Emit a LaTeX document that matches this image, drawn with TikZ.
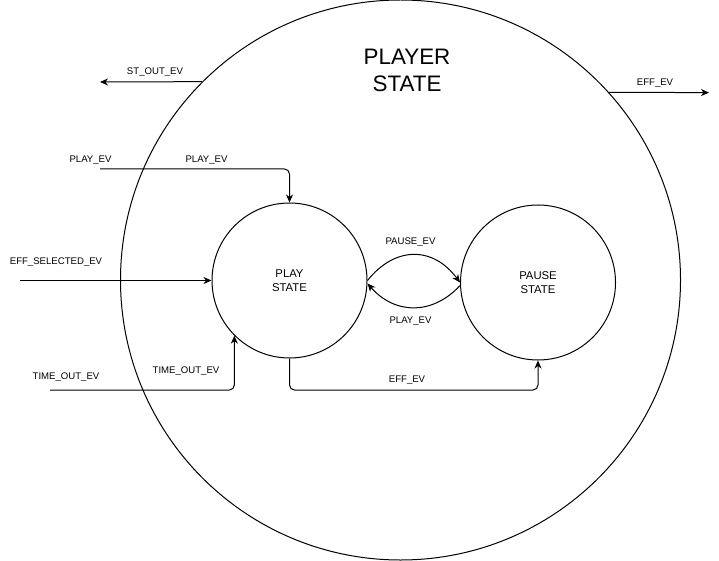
\documentclass[tikz,border=0pt]{standalone}
\usepackage{fontspec}
\setmainfont{Liberation Sans}
\usetikzlibrary{arrows.meta}
\begin{document}
\begin{tikzpicture}[x=1pt,y=-1pt,
  state/.style={draw,circle,line width=1pt,minimum size=155pt,inner sep=0pt,align=center,font=\fontsize{11.3}{13.5}\selectfont},
  lbl/.style={font=\fontsize{9.6}{11}\selectfont,inner sep=0pt},
  arr/.style={line width=1pt,-{Stealth[length=8pt,width=7pt,inset=2.5pt]}},
  conn/.style={arr,rounded corners=5pt}]
\useasboundingbox (0,0) rectangle (719,561);
\fill[white] (0,0) rectangle (719,561);
\node[draw,circle,line width=1pt,minimum size=560pt,inner sep=0pt] (big) at (400.5,280) {};
\node[align=center,font=\fontsize{22.4}{27}\selectfont] (title) at (407,70) {PLAYER\\STATE};
\node[state] (play) at (289.5,280.5) {PLAY\\STATE};
\node[state] (pause) at (538,282.5) {PAUSE\\STATE};
% outputs
\coordinate (stout) at (100,82);
\coordinate (effout) at (709,92.6);
\draw[arr] (big.135) -- (stout);
\draw[arr] (big.42) -- (effout);
\node[lbl] (lstout) at (155,72) {ST\_OUT\_EV};
\node[lbl] (leffout) at (655,83) {EFF\_EV};
% inputs
\coordinate (playin) at (100,169);
\coordinate (effin) at (20,280.5);
\coordinate (timein) at (50,390);
\draw[conn] (playin) -| (play.north);
\draw[arr] (effin) -- (play.west);
\draw[conn] (timein) -| (play.-135);
\node[lbl] (lplayin) at (90.5,160) {PLAY\_EV};
\node[lbl] (lplayin2) at (206.5,160) {PLAY\_EV};
\node[lbl] (leffin) at (56,262) {EFF\_SELECTED\_EV};
\node[lbl] (ltimein) at (66,377) {TIME\_OUT\_EV};
\node[lbl] (ltimein2) at (186,371) {TIME\_OUT\_EV};
% transitions
\draw[arr] (play.east) .. controls (395,246) and (433,246) .. (pause.west);
\draw[arr] ([yshift=-3pt]pause.west) .. controls (433,315) and (395,315) .. ([yshift=-3pt]play.east);
\node[lbl] (lpause) at (410.5,242) {PAUSE\_EV};
\node[lbl] (lplay) at (410.5,321) {PLAY\_EV};
\coordinate (bot) at (414,390);
\draw[conn] (play.south) |- (bot) -| (pause.south);
\node[lbl] (leff) at (407,380) {EFF\_EV};
\end{tikzpicture}
\end{document}
